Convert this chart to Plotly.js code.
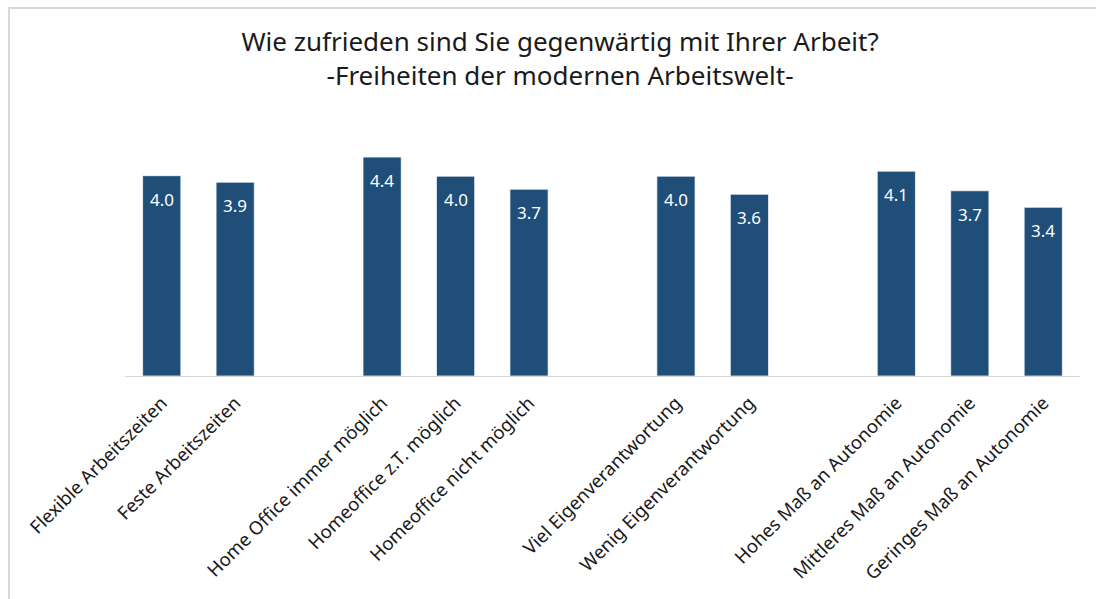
<!DOCTYPE html>
<html><head><meta charset="utf-8">
<script src="https://cdn.plot.ly/plotly-3.0.1.min.js"></script>
<style>html,body{margin:0;padding:0;background:#fff}#chart{width:1096px;height:599px}</style>
</head><body><div id="chart"></div>
<script>
// slot positions (gaps between groups are empty slots)
const positions = [0, 1, 3, 4, 5, 7, 8, 10, 11, 12];
const categories = [
  "Flexible Arbeitszeiten", "Feste Arbeitszeiten",
  "Home Office immer möglich", "Homeoffice z.T. möglich", "Homeoffice nicht möglich",
  "Viel Eigenverantwortung", "Wenig Eigenverantwortung",
  "Hohes Maß an Autonomie", "Mittleres Maß an Autonomie", "Geringes Maß an Autonomie"
];
const values = [3.99, 3.86, 4.36, 3.98, 3.72, 3.98, 3.62, 4.08, 3.69, 3.36];
const labels = ["4.0", "3.9", "4.4", "4.0", "3.7", "4.0", "3.6", "4.1", "3.7", "3.4"];

const font = "Noto Sans, Open Sans, sans-serif";
const trace = {
  type: "bar", x: positions, y: values,
  marker: {color: "#1F4E79", line: {color: "rgba(255,255,255,0.7)", width: 1}},
  width: 0.52, hoverinfo: "skip"
};
const annotations = positions.map((p, i) => ({
  x: p, y: values[i], xref: "x", yref: "y", text: labels[i], showarrow: false,
  yanchor: "top", yshift: -10, font: {family: font, size: 17, color: "#ffffff"}
}));
const layout = {
  width: 1096, height: 599,
  margin: {l: 125, r: 16, t: 130, b: 223},
  paper_bgcolor: "#ffffff", plot_bgcolor: "#ffffff",
  showlegend: false,
  title: {
    text: "Wie zufrieden sind Sie gegenwärtig mit Ihrer Arbeit?<br>-Freiheiten der modernen Arbeitswelt-",
    x: 0.511, xref: "container", xanchor: "center", y: 0.915, yref: "container", yanchor: "top",
    font: {family: font, size: 26, color: "#1a1a1a"}
  },
  xaxis: {
    range: [-0.5, 12.5], tickmode: "array", tickvals: positions, ticktext: categories,
    tickangle: -45, showgrid: false, zeroline: false, showline: true,
    linecolor: "#d9d9d9", linewidth: 1, ticks: "", ticklabelstandoff: 8,
    tickfont: {family: font, size: 18.5, color: "#1a1a1a"}
  },
  yaxis: {range: [0, 4.9], visible: false, showgrid: false, zeroline: false},
  annotations: annotations,
  shapes: [{
    type: "rect", xref: "paper", yref: "paper",
    x0: -0.1215, x1: 1.1, y0: -2, y1: 1.496,
    line: {color: "#d9d9d9", width: 2}, fillcolor: "rgba(0,0,0,0)", layer: "below"
  }]
};
Plotly.newPlot("chart", [trace], layout, {staticPlot: true, displayModeBar: false});
</script></body></html>
